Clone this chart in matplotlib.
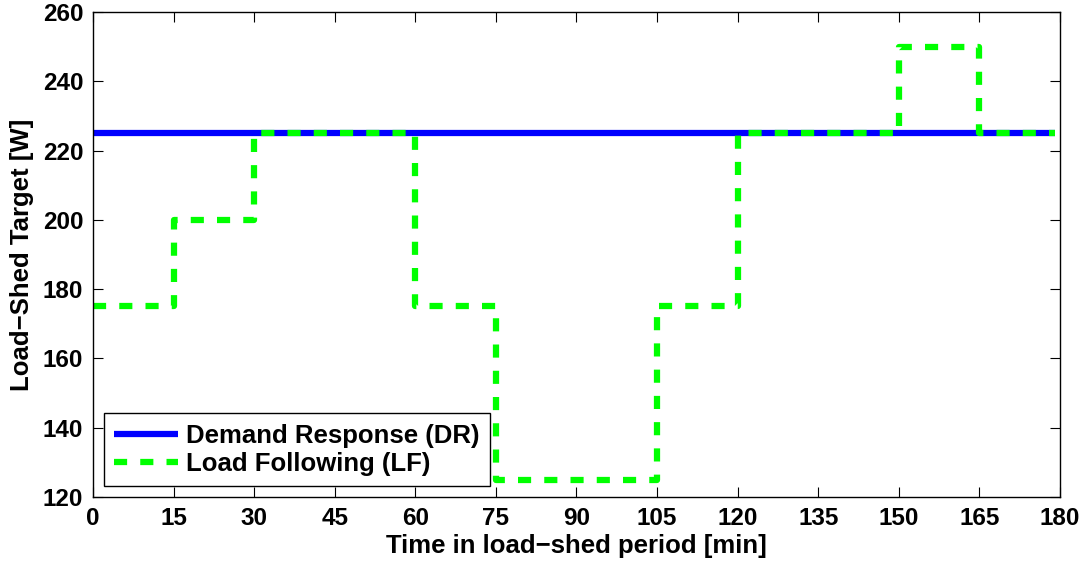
import matplotlib.pyplot as plt

plt.rcParams['font.family'] = ['Liberation Sans', 'DejaVu Sans']
plt.rcParams['font.weight'] = 'bold'

# load-shed schedule (step edges in minutes, last sample at 179)
t_edges = [0, 15, 30, 60, 75, 105, 120, 150, 165, 179]
lf_target = [175, 200, 225, 175, 125, 175, 225, 250, 225, 225]
dr_time = [0, 179]
dr_target = [225, 225]

x_ticks = list(range(0, 181, 15))
y_ticks = list(range(120, 261, 20))

fig = plt.figure(figsize=(10.86, 5.65), dpi=100)
ax = fig.add_axes([0.0856, 0.1204, 0.8904, 0.8584])

ax.plot(dr_time, dr_target, color='#0000ff', lw=4.5, solid_capstyle='butt',
        label='Demand Response (DR)')
ax.plot(t_edges, lf_target, color='#00ff00', lw=4.5, drawstyle='steps-post',
        linestyle=(0, (2.1, 2.1)), label='Load Following (LF)')

ax.set_xlim(0, 180)
ax.set_ylim(120, 260)
ax.set_xticks(x_ticks)
ax.set_yticks(y_ticks)
ax.tick_params(direction='in', length=7, width=0.8, top=True, right=True,
               labelsize=17.5, pad=7)
for s in ax.spines.values():
    s.set_linewidth(1.0)

ax.set_xlabel('Time in load\u2212shed period [min]', fontsize=18.5, fontweight='bold', labelpad=3)
ax.set_ylabel('Load\u2212Shed Target [W]', fontsize=18.5, fontweight='bold', labelpad=6)

leg = ax.legend(loc='lower left', bbox_to_anchor=(0.011, 0.023), fontsize=18.5,
                fancybox=False, framealpha=1, edgecolor='black',
                handlelength=2.5, borderpad=0.4, labelspacing=0.15,
                handletextpad=0.3, borderaxespad=0)
leg.get_frame().set_linewidth(1.0)

fig.savefig('out.png', dpi=100)
